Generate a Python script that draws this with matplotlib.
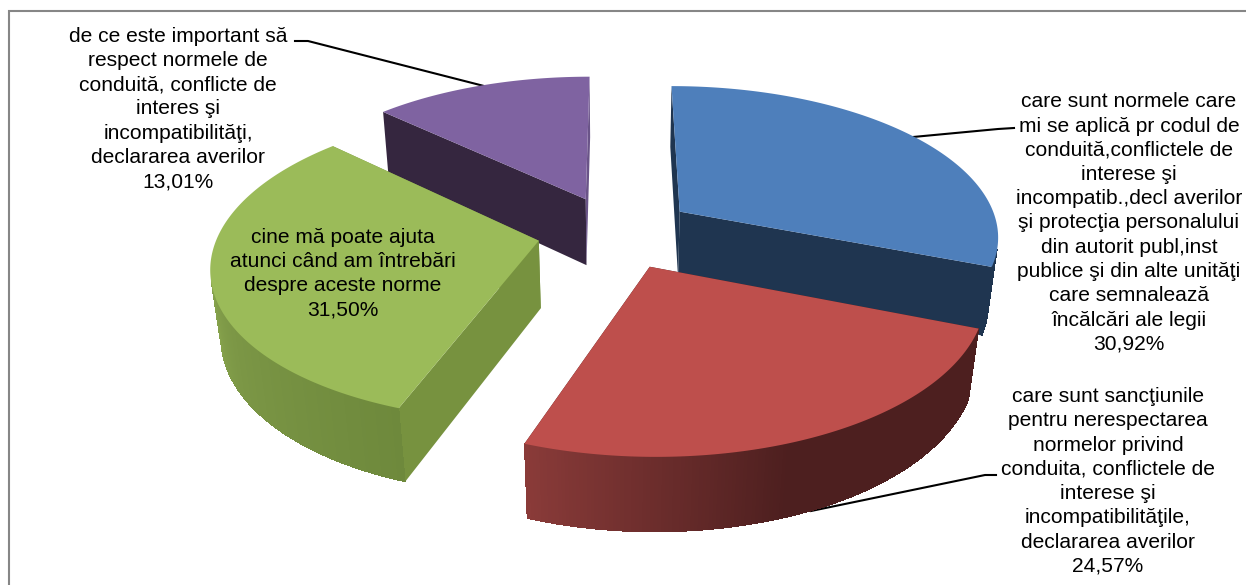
import numpy as np
import matplotlib
matplotlib.use("Agg")
import matplotlib.pyplot as plt
from matplotlib.colors import to_rgb
from matplotlib.patches import Polygon

# ---- data ----
values = [30.92, 24.57, 31.50, 13.01]
names = [
    "care sunt normele care\nmi se aplică pr codul de\nconduită,conflictele de\ninterese şi\nincompatib.,decl averilor\nşi protecţia personalului\ndin autorit publ,inst\npublice şi din alte unităţi\ncare semnalează\nîncălcări ale legii",
    "care sunt sancţiunile\npentru nerespectarea\nnormelor privind\nconduita, conflictele de\ninterese şi\nincompatibilităţile,\ndeclararea averilor",
    "cine mă poate ajuta\natunci când am întrebări\ndespre aceste norme",
    "de ce este important să\nrespect normele de\nconduită, conflicte de\ninteres şi\nincompatibilităţi,\ndeclararea averilor",
]

# ---- style ----
top_colors = ["#4E7FBB", "#BE4F4C", "#9BBB59", "#7F63A1"]
face_colors = [("#1F3550", "#1F3550"), ("#4D1F1F", "#4D1F1F"), ("#77923F", "#77923F"), ("#35263F", "#6A5488")]
wall_stops = [
    ([0, 360], ["#1F3550", "#1F3550"]),
    ([111, 160, 199.8], ["#4D1F1F", "#4D1F1F", "#8A3B39"]),
    ([199.8, 240, 275, 314], ["#6E893C", "#7C9746", "#93B154", "#9BBB59"]),
    ([0, 360], ["#6A5488", "#6A5488"]),
]
label_pos = [(1129, 223), (1108, 481.5), (343, 273.5), (178, 109)]
leaders = [
    ([1014, 998, 913], [128, 129, 137]),
    ([996, 985, 811], [475, 475, 511]),
    None,
    ([295, 308, 484], [41, 41, 86]),
]
draw_order = [3, 0, 2, 1]

# ---- projection parameters ----
CX, CY, A, B, C, K, M, EXPLODE = 616, 232, 320, 150, 69, 0.15, 0.026, 0.246


def project(x, y, z):
    w = 1 + K * y + M * z
    return CX + A * x / w, CY + (-B * y + C * z) / w


def signed_area(pts):
    p = np.array(pts)
    q = np.roll(p, -1, axis=0)
    return np.sum(p[:, 0] * q[:, 1] - q[:, 0] * p[:, 1]) / 2


fig = plt.figure(figsize=(12.46, 5.85), dpi=100)
ax = fig.add_axes([0, 0, 1, 1])
ax.set_xlim(0, 1246)
ax.set_ylim(585, 0)
ax.axis("off")

# chart border
ax.plot([9, 9, 1246], [585, 10.5, 10.5], color="#868686", lw=1.5, zorder=0, solid_joinstyle="miter")

edges = np.concatenate([[0], np.cumsum(values)]) / sum(values) * 360

# leaders go under the pie
for lead in leaders:
    if lead:
        ax.plot(lead[0], lead[1], color="black", lw=1.5, zorder=1)

z = 2
for i in draw_order:
    t0, t1 = edges[i], edges[i + 1]
    tm = np.radians((t0 + t1) / 2)
    ox, oy = EXPLODE * np.sin(tm), EXPLODE * np.cos(tm)
    th = np.radians(np.linspace(t0, t1, 160))
    xs, ys = ox + np.sin(th), oy + np.cos(th)

    # radial faces
    for (xe, ye), fc in zip(((xs[0], ys[0]), (xs[-1], ys[-1])), face_colors[i]):
        pts = [project(ox, oy, 0), project(xe, ye, 0), project(xe, ye, 1), project(ox, oy, 1)]
        ax.add_patch(Polygon(pts, closed=True, fc=fc, ec="none", zorder=z))
        z += 1

    # outer wall: only the strips that face the viewer
    stops, cols = wall_stops[i]
    rgb = np.array([to_rgb(c) for c in cols])
    deg = np.degrees(th)
    tx, ty = project(xs, ys, 0)
    bx, by = project(xs, ys, 1)
    front = [j for j in range(len(th) - 1)
             if signed_area([(tx[j], ty[j]), (tx[j + 1], ty[j + 1]),
                             (bx[j + 1], by[j + 1]), (bx[j], by[j])]) < 0]
    if front:
        lo, hi = front[0], front[-1] + 2
        mid_col = [np.interp(deg[(lo + hi) // 2], stops, rgb[:, n]) for n in range(3)]
        ax.add_patch(Polygon(np.c_[np.r_[tx[lo:hi], bx[lo:hi][::-1]], np.r_[ty[lo:hi], by[lo:hi][::-1]]],
                             closed=True, fc=mid_col, ec="none", zorder=z))
        z += 1
    for j in front:
        dm = (deg[j] + deg[j + 1]) / 2
        col = [np.interp(dm, stops, rgb[:, n]) for n in range(3)]
        pts = [(tx[j], ty[j]), (tx[j + 1], ty[j + 1]), (bx[j + 1], by[j + 1]), (bx[j], by[j])]
        ax.add_patch(Polygon(pts, closed=True, fc=col, ec="none", antialiased=False, zorder=z))
        z += 1

    # top surface
    px, py = project(np.r_[ox, xs], np.r_[oy, ys], 0)
    ax.add_patch(Polygon(np.c_[px, py], closed=True, fc=top_colors[i], ec="none", zorder=z))
    z += 1

for i, (nm, v) in enumerate(zip(names, values)):
    label = nm + "\n" + f"{v:.2f}%".replace(".", ",")
    ax.text(label_pos[i][0], label_pos[i][1], label, ha="center", va="center",
            family="Liberation Sans", fontsize=15.1, linespacing=1.35, color="black", zorder=z + 1)

fig.savefig("out.png", dpi=100)
